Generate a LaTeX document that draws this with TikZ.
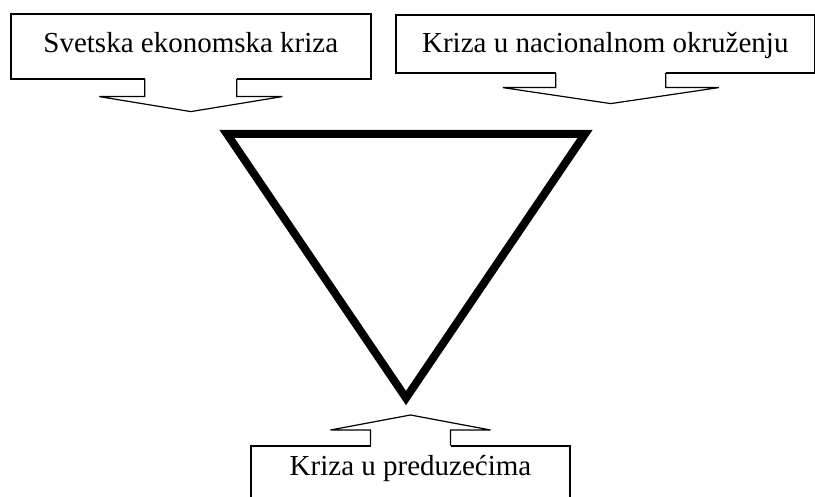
\documentclass[tikz,border=0pt]{standalone}
\usepackage{fontspec}
\setmainfont{Liberation Serif}
\usetikzlibrary{calc}

\tikzset{
  kutija/.style={draw,line width=1.6pt,inner sep=0pt,font=\fontsize{29}{34}\selectfont},
  strelica/.style={draw,line width=1.2pt,line join=miter,line cap=rect}
}
% block arrow: #1 base point, #2 stem half width, #3 head half width, #4 stem length, #5 head length
\newcommand{\blokstrelica}[5]{%
  \fill[white] ($(#1)+(-#2,{-0.15*#4})$) rectangle ($(#1)+(#2,#4)$);
  \draw[strelica] ($(#1)+(-#2,0)$) -- ($(#1)+(-#2,#4)$) -- ($(#1)+(-#3,#4)$)
    -- ($(#1)+(0,{#4+#5})$) -- ($(#1)+(#3,#4)$) -- ($(#1)+(#2,#4)$) -- ($(#1)+(#2,0)$);}

\begin{document}
\begin{tikzpicture}[x=1pt,y=-1pt]
  \useasboundingbox (0,0) rectangle (815,497);
  \clip (0,0) rectangle (815,497);
  % triangle
  \draw[line width=8pt,line join=miter] (227,134) -- (585,134) -- (406,398) -- cycle;
  % boxes
  \node[kutija,anchor=north west,minimum width=360pt,text height=39pt,text depth=26pt]
    (svet) at (10,13) {Svetska ekonomska kriza};
  \node[kutija,anchor=north west,minimum width=419pt,text height=38pt,text depth=20pt]
    (nac) at (395,14) {Kriza u nacionalnom okruženju};
  \node[kutija,anchor=north,minimum width=319pt,text height=30pt,text depth=45pt]
    (pred) at (410.5,445) {Kriza u preduzećima};
  % arrows
  \coordinate (nacdno) at ($(nac.south)+(5.5,0)$);
  \blokstrelica{svet.south}{46}{91.5}{17}{15}
  \blokstrelica{nacdno}{55}{108}{14}{16}
  \blokstrelica{pred.north}{40}{80}{-15}{-15}
\end{tikzpicture}
\end{document}
